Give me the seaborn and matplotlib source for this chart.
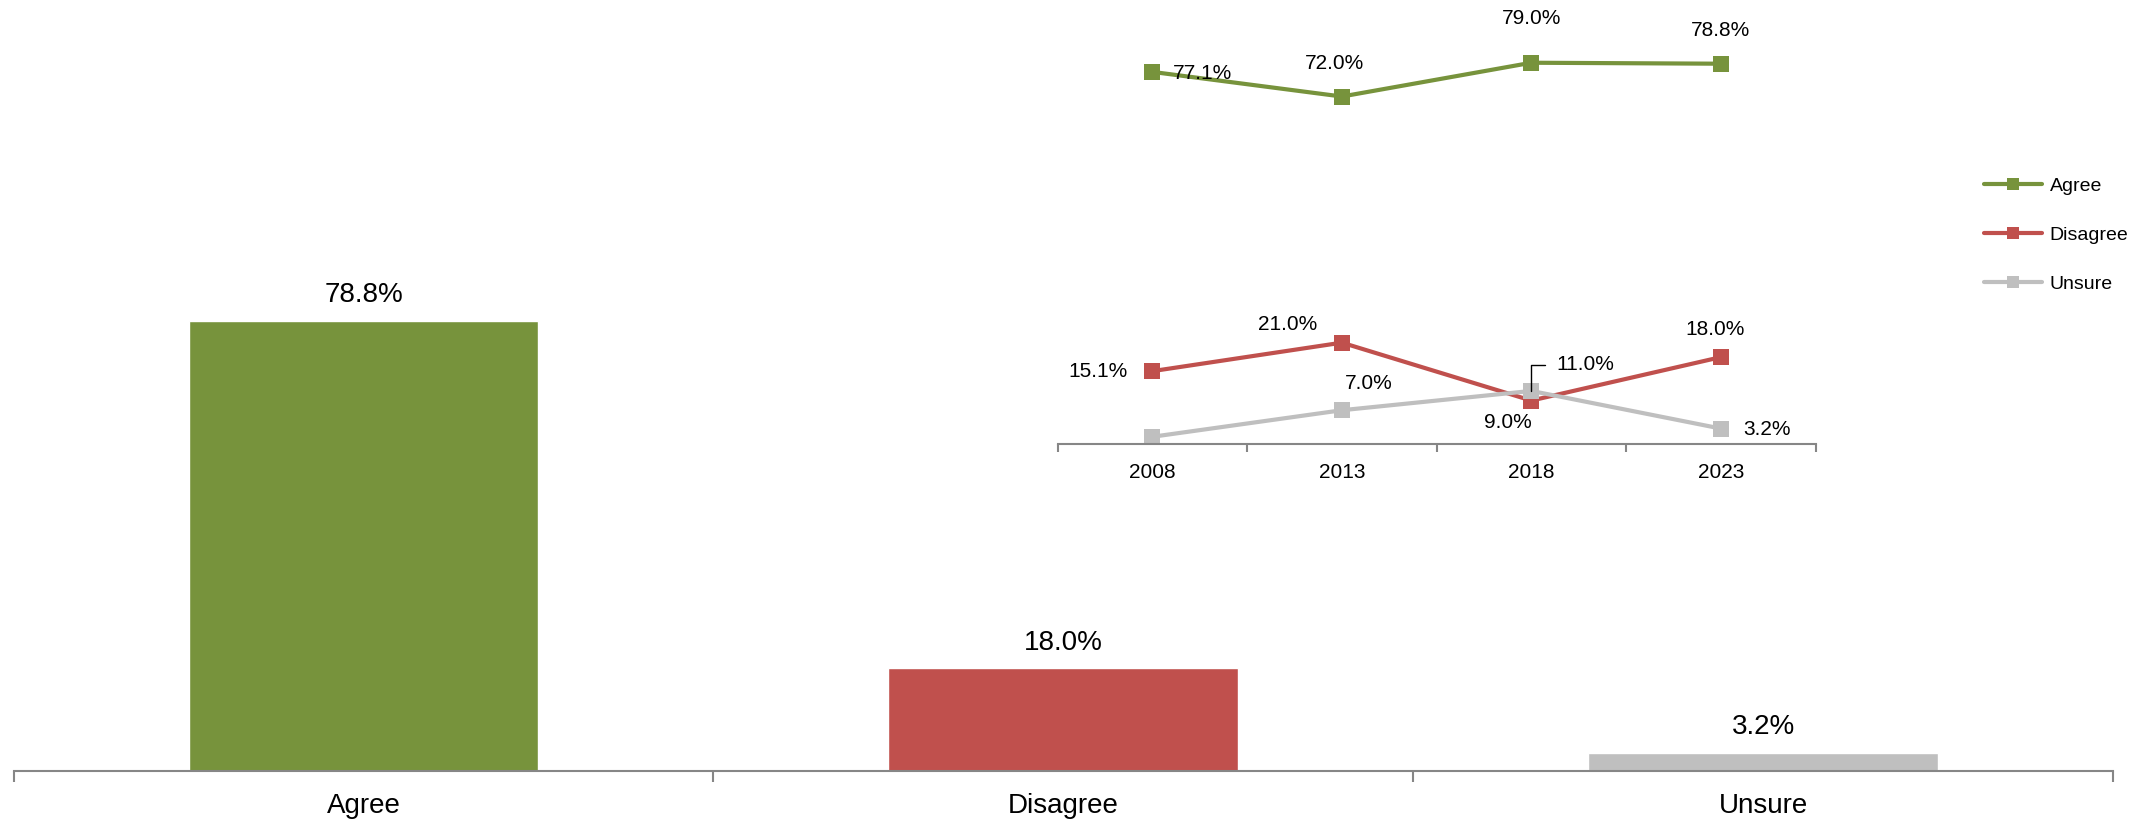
import matplotlib
matplotlib.use('Agg')
import matplotlib.pyplot as plt
import seaborn as sns
import pandas as pd
from matplotlib.lines import Line2D

# current survey
categories = ['Agree', 'Disagree', 'Unsure']
current = [78.8, 18.0, 3.2]
colors = ['#77933C', '#C0504D', '#BFBFBF']

# trend over time
years = ['2008', '2013', '2018', '2023']
agree = [77.1, 72.0, 79.0, 78.8]
disagree = [15.1, 21.0, 9.0, 18.0]
unsure = [1.5, 7.0, 11.0, 3.2]

axis_grey = '#868686'

sns.set_style('white')
plt.rcParams['font.family'] = ['Liberation Sans', 'DejaVu Sans']
plt.rcParams['text.color'] = 'black'
plt.rcParams['xtick.color'] = 'black'

fig = plt.figure(figsize=(21.41, 8.23), dpi=100)

# main bar chart
ax = fig.add_axes([0.00635, 0.0632, 0.9806, 0.9368])
df = pd.DataFrame({'cat': categories, 'val': current})
sns.barplot(data=df, x='cat', y='val', hue='cat', palette=colors, width=0.5,
            saturation=1, legend=False, ax=ax)
ax.set_xlim(-0.5, 2.5)
ax.set_ylim(0, 135)
for i, v in enumerate(current):
    ax.annotate(f'{v:.1f}%', (i, v), xytext=(0, 9), textcoords='offset points',
                ha='center', va='bottom', fontsize=20)
for s in ['left', 'top', 'right']:
    ax.spines[s].set_visible(False)
ax.spines['bottom'].set_color(axis_grey)
ax.spines['bottom'].set_linewidth(1.5)
ax.set_yticks([])
ax.set_xlabel('')
ax.set_ylabel('')
ax.set_xticks([-0.5, 0.5, 1.5, 2.5], minor=True)
ax.tick_params(axis='x', which='both', bottom=True)
ax.tick_params(axis='x', which='major', length=0, labelsize=20, pad=16)
ax.tick_params(axis='x', which='minor', length=8, width=1.5, color=axis_grey)

# inset line chart
ax2 = fig.add_axes([0.494, 0.4605, 0.354, 0.5395])
ax2.set_facecolor('none')
series = [('Agree', agree, colors[0]), ('Disagree', disagree, colors[1]),
          ('Unsure', unsure, colors[2])]
for name, vals, c in series:
    sns.lineplot(x=years, y=vals, ax=ax2, color=c, marker='s', markersize=11,
                 markeredgewidth=0, linewidth=3, sort=False, legend=False)
ax2.set_xlim(-0.5, 3.5)
ax2.set_ylim(0, 92)
for s in ['left', 'top', 'right']:
    ax2.spines[s].set_visible(False)
ax2.spines['bottom'].set_color(axis_grey)
ax2.spines['bottom'].set_linewidth(1.5)
ax2.set_yticks([])
ax2.set_xticks(range(len(years)))
ax2.set_xticklabels(years)
ax2.set_xticks([-0.5, 0.5, 1.5, 2.5, 3.5], minor=True)
ax2.tick_params(axis='x', which='both', bottom=True)
ax2.tick_params(axis='x', which='major', length=0, labelsize=15, pad=14)
ax2.tick_params(axis='x', which='minor', length=6, width=1.5, color=axis_grey)

# data labels (offsets in points)
fs = 15
def lab(i, v, dx, dy, ha='center'):
    ax2.annotate(f'{v:.1f}%', (i, v), xytext=(dx, dy), textcoords='offset points',
                 ha=ha, va='center', fontsize=fs)

lab(0, agree[0], 15, -1, 'left')
lab(1, agree[1], -5, 24)
lab(2, agree[2], 0, 32)
lab(3, agree[3], 0, 24)
lab(0, disagree[0], -18, 0, 'right')
lab(1, disagree[1], -39, 13)
lab(2, disagree[2], -17, -16)
lab(3, disagree[3], -4, 20)
lab(1, unsure[1], 19, 19)
lab(3, unsure[3], 16, -1, 'left')
ax2.annotate(f'{unsure[2]:.1f}%', (2, unsure[2]), xytext=(18, 19),
             textcoords='offset points', ha='left', va='center', fontsize=fs,
             arrowprops=dict(arrowstyle='-', color='black', lw=1,
                             connectionstyle='angle,angleA=0,angleB=90,rad=0',
                             relpos=(0, 0.5), shrinkA=6, shrinkB=0))

# legend
handles = [Line2D([], [], color=c, marker='s', markersize=9, markeredgewidth=0,
                  linewidth=3) for _, _, c in series]
fig.legend(handles, [n for n, _, _ in series], loc='upper left',
           bbox_to_anchor=(1966 / 2141, 1 - 160 / 823), frameon=False,
           fontsize=14, handlelength=3, labelspacing=1.6, handletextpad=0.4)

fig.savefig('out.png', dpi=100)
